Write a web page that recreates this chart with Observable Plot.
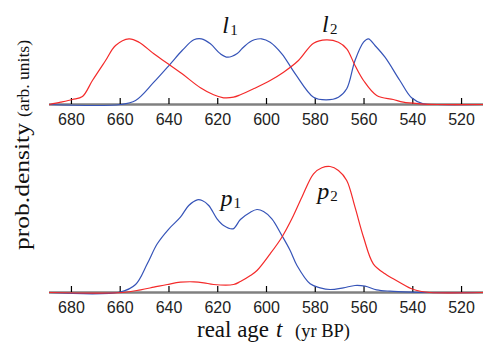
<!DOCTYPE html>
<html>
<head>
<meta charset="utf-8">
<script src="https://cdn.jsdelivr.net/npm/d3@7"></script>
<script src="https://cdn.jsdelivr.net/npm/@observablehq/plot@0.6"></script>
<style>
  html, body { margin: 0; padding: 0; background: #fff; }
  #chart { position: relative; width: 483px; height: 345px; background: #fff; overflow: hidden; }
  #chart > svg, #chart > figure { position: absolute; left: 0; margin: 0; }
</style>
</head>
<body>
<div id="chart"></div>
<script>
// Age axis (years BP) and tick values
const ageDomain = [689, 511];
const xTicks = [680, 660, 640, 620, 600, 580, 560, 540, 520];

// Likelihoods l1 / l2 (upper panel), [age, density]
const likelihoodRed = [
  [689, 0], [684.4, 2.3], [679.6, 5], [675.5, 8], [671.4, 24], [666, 44], [661.9, 59],
  [656.4, 65.7], [652.3, 62.3], [646.2, 50.7], [640.7, 41.3], [634.6, 30.7], [627.1, 16.7],
  [621.7, 9.7], [617.6, 6.7], [613.5, 7.3], [610.7, 9.7], [605.3, 15.7], [598.5, 24],
  [593, 32.3], [586.9, 44], [580.7, 61.3], [575.5, 64.7], [570.5, 62.3], [567.1, 55.7],
  [563.7, 39], [560.2, 24], [554.8, 9], [548, 5], [543.9, 2.3], [537, 0.7], [530, 0], [511, 0]
];
const likelihoodBlue = [
  [689, 0], [659.8, 0], [653.7, 4], [646.2, 22.3], [639.4, 40.7], [634.6, 54], [629.8, 64.7],
  [626.7, 65.7], [623, 60.7], [618.9, 50.7], [615.9, 47.3], [612, 51], [610, 56], [607, 62.3],
  [605, 64.7], [602, 65.7], [598.5, 62.3], [593.7, 50.7], [588.2, 30.7], [580.7, 7.3],
  [575.5, 4.7], [570.5, 7.3], [567.1, 15.7], [563.7, 44], [560.2, 62.3], [558.2, 65.7],
  [555.5, 59], [551.4, 47.3], [545.3, 24], [540.5, 6.7], [535.7, 0.7], [530, 0], [511, 0]
];

// Posteriors p1 / p2 (lower panel), [age, density]
const posteriorBlue = [
  [689, 0], [660, 0.5], [653.7, 8], [648.9, 28.7], [644.8, 48.7], [640, 63.7], [635.3, 75.3],
  [631.9, 87], [628.4, 92.7], [626.4, 92], [623.7, 87], [620.3, 73.7], [617.6, 67],
  [613.7, 63.7], [610.7, 73], [606.6, 80.3], [603.9, 83], [601.2, 81], [597.8, 73.7],
  [593.7, 57], [590.3, 42], [587.5, 27], [582.1, 8.7], [578, 4.7], [573.9, 3], [568.5, 4.7],
  [563.7, 7], [559.6, 6.3], [554.8, 2.7], [549.4, 1.3], [540.5, 0.3], [535, 0], [511, 0]
];
const posteriorRed = [
  [689, 0], [659, 0], [651.6, 2.7], [646.2, 5.3], [640.7, 8], [635.3, 10.3], [629.8, 10.7],
  [625.7, 9.7], [621.7, 8], [613.5, 8], [610.7, 11], [606.6, 17], [603.9, 22], [598.5, 38.7],
  [593.7, 55.3], [589.6, 73.7], [585.5, 95.3], [580.7, 118.7], [577.3, 124.7], [573.9, 126],
  [570.5, 122], [567.1, 112], [563.7, 85.3], [560.2, 55.3], [556.2, 28.7], [551.4, 18.7],
  [548, 13.7], [543.9, 8], [540.5, 3.7], [536.4, 1], [533, 0], [511, 0]
];

// Curve labels: letter, subscript, anchor position [age, density]
const likelihoodLabels = [
  {name: "l", sub: "1", age: 618.1, value: 72},
  {name: "l", sub: "2", age: 577.2, value: 73}
];
const posteriorLabels = [
  {name: "p", sub: "1", age: 618.9, value: 87},
  {name: "p", sub: "2", age: 579.2, value: 94}
];

const RED = "#f42a2a";
const BLUE = "#3654b8";
const SERIF = "'Liberation Serif', 'Times New Roman', serif";
const SANS = "'Liberation Sans', Arial, sans-serif";
const TICK_PX = 6;

function panel({height, marginTop, marginBottom, yMax, blue, red, labels, subDx}) {
  // convert the tick length from pixels into this panel's density units
  const tickLen = TICK_PX * yMax / (height - marginTop - marginBottom);
  return Plot.plot({
    width: 483,
    height,
    marginLeft: 49,
    marginRight: 0,
    marginTop,
    marginBottom,
    style: {fontFamily: SANS, fontSize: "16px", background: "transparent", overflow: "visible"},
    x: {domain: ageDomain, label: null},
    y: {domain: [0, yMax], axis: null},
    marks: [
      Plot.ruleY([0], {stroke: "#808080", strokeWidth: 2.5}),
      // short inward tick marks standing on the baseline
      Plot.ruleX(xTicks, {x: d => d, y1: 0, y2: tickLen, stroke: "#000", strokeWidth: 1.2}),
      // tick labels
      Plot.axisX({ticks: xTicks, tickSize: 0, tickPadding: 9, fill: "#222", fontSize: 16, label: null}),
      Plot.line(blue, {x: d => d[0], y: d => d[1], stroke: BLUE, strokeWidth: 1.2, curve: "catmull-rom"}),
      Plot.line(red, {x: d => d[0], y: d => d[1], stroke: RED, strokeWidth: 1.2, curve: "catmull-rom"}),
      Plot.text(labels, {x: "age", y: "value", text: "name", textAnchor: "start", lineAnchor: "bottom",
        fontFamily: SERIF, fontStyle: "italic", fontSize: 24, fill: "#111"}),
      Plot.text(labels, {x: "age", y: "value", text: "sub", textAnchor: "start", lineAnchor: "bottom",
        dx: subDx, dy: 2, fontFamily: SERIF, fontSize: 15, fill: "#111"})
    ]
  });
}

const chartEl = document.getElementById("chart");

const upperPanel = panel({height: 125, marginTop: 38, marginBottom: 21, yMax: 66,
  blue: likelihoodBlue, red: likelihoodRed, labels: likelihoodLabels, subDx: 8});
upperPanel.style.top = "0px";
chartEl.appendChild(upperPanel);

const lowerPanel = panel({height: 185, marginTop: 36, marginBottom: 23, yMax: 126,
  blue: posteriorBlue, red: posteriorRed, labels: posteriorLabels, subDx: 13});
lowerPanel.style.top = "130px";
chartEl.appendChild(lowerPanel);

// Axis titles
const titles = d3.select(chartEl).append("svg")
  .attr("width", 483).attr("height", 345)
  .style("top", "0px").style("pointer-events", "none")
  .attr("font-family", SERIF).attr("fill", "#111");

titles.append("text")
  .attr("transform", "translate(29,250) rotate(-90)")
  .attr("font-size", 22).attr("textLength", 127).attr("lengthAdjust", "spacingAndGlyphs")
  .text("prob.density");
titles.append("text")
  .attr("transform", "translate(29,117) rotate(-90)")
  .attr("font-size", 16).attr("textLength", 77).attr("lengthAdjust", "spacingAndGlyphs")
  .text("(arb. units)");

titles.append("text")
  .attr("x", 197).attr("y", 337)
  .attr("font-size", 23).attr("textLength", 72).attr("lengthAdjust", "spacingAndGlyphs")
  .text("real age");
titles.append("text")
  .attr("x", 276).attr("y", 337)
  .attr("font-size", 23).attr("font-style", "italic")
  .text("t");
titles.append("text")
  .attr("x", 295).attr("y", 337)
  .attr("font-size", 18).attr("textLength", 55).attr("lengthAdjust", "spacingAndGlyphs")
  .text("(yr BP)");
</script>
</body>
</html>
